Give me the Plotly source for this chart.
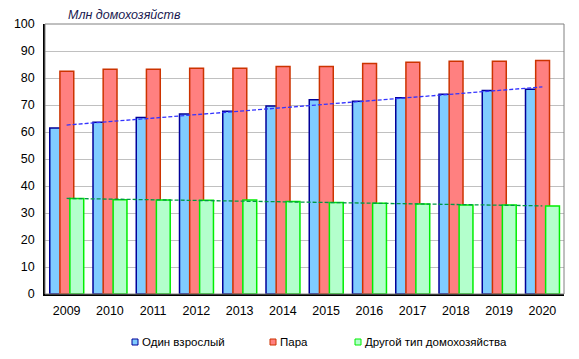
import numpy as np
import plotly.graph_objects as go

years = ["2009", "2010", "2011", "2012", "2013", "2014", "2015", "2016", "2017", "2018", "2019", "2020"]
single_adult = [61.5, 63.6, 65.4, 66.7, 67.7, 69.6, 71.9, 71.4, 72.7, 74.0, 75.4, 75.8]
couple = [82.5, 83.2, 83.2, 83.6, 83.6, 84.3, 84.3, 85.4, 85.8, 86.2, 86.2, 86.5]
other_type = [35.4, 34.9, 34.8, 34.7, 34.8, 34.3, 33.9, 33.6, 33.3, 33.0, 33.0, 32.6]

names = ["Один взрослый", "Пара", "Другой тип домохозяйства"]
y_ticks = list(range(0, 101, 10))

# layout geometry (pixels)
W_PX, H_PX = 579, 359
ML, MR, MT, MB = 45, 15, 24, 65
PW = W_PX - ML - MR
PH = H_PX - MT - MB


def px_x(p):
    return (p - ML) / PW


def px_y(p):
    return (H_PX - MB - p) / PH


x = np.arange(len(years))
W = 0.32
font = "Liberation Sans, Arial, sans-serif"

fig = go.Figure()
specs = [
    (single_adult, names[0], "#80CCFF", "#000099", -0.39),
    (couple, names[1], "#FF8080", "#CC3300", -0.155),
    (other_type, names[2], "#B3FFCC", "#00EE00", 0.075),
]
for vals, nm, fill, line, off in specs:
    fig.add_trace(go.Bar(
        x=x, y=vals, name=nm, width=W, offset=off, showlegend=False,
        marker=dict(color=fill, line=dict(color=line, width=1.5)),
    ))

# linear trendlines (Excel-style) for single adult and other type
for vals, col in [(single_adult, "#3333FF"), (other_type, "#009944")]:
    k, b = np.polyfit(x, vals, 1)
    fig.add_trace(go.Scatter(
        x=[x[0], x[-1]], y=[k * x[0] + b, k * x[-1] + b], mode="lines",
        line=dict(color=col, width=1.3, dash="4px,2px"), showlegend=False,
        hoverinfo="skip",
    ))

shapes = [dict(type="rect", xref="paper", yref="paper", x0=0, y0=0, x1=1, y1=1,
               line=dict(color="#808080", width=1), layer="above")]
annotations = [dict(text="<i>Млн домохозяйств</i>", xref="paper", yref="paper",
                    x=px_x(66), y=px_y(15), xanchor="left", yanchor="middle",
                    showarrow=False, font=dict(size=12.5, color="#1A1A50", family=font))]

# manual legend (small squares right before the text)
legend_items = [(names[0], "#80CCFF", "#000099", 132),
                (names[1], "#FF8080", "#CC3300", 270),
                (names[2], "#B3FFCC", "#00EE00", 355)]
for nm, fill, line, px0 in legend_items:
    shapes.append(dict(type="rect", xref="paper", yref="paper",
                       x0=px_x(px0), x1=px_x(px0 + 6), y0=px_y(345), y1=px_y(339),
                       fillcolor=fill, line=dict(color=line, width=1)))
    annotations.append(dict(text=nm, xref="paper", yref="paper", x=px_x(px0 + 7.5),
                            y=px_y(342), xanchor="left", yanchor="middle", showarrow=False,
                            font=dict(size=11.5, color="black", family=font)))

fig.update_layout(
    barmode="overlay",
    width=W_PX, height=H_PX,
    margin=dict(l=ML, r=MR, t=MT, b=MB, autoexpand=False),
    paper_bgcolor="white", plot_bgcolor="white",
    font=dict(family=font, size=12, color="black"),
    showlegend=False,
    shapes=shapes,
    annotations=annotations,
)
fig.update_xaxes(range=[-0.5, len(years) - 0.5], tickvals=x, ticktext=years,
                 showgrid=False, showline=True, linecolor="black", linewidth=1.5,
                 ticks="", zeroline=False, tickfont=dict(size=12.5), automargin=False,
                 ticklabelstandoff=4)
fig.update_yaxes(range=[0, 100], tickvals=y_ticks, showgrid=True, gridcolor="#C0C0C0",
                 gridwidth=1, showline=True, linecolor="black", linewidth=1.5,
                 ticks="", zeroline=False, tickfont=dict(size=12.5), automargin=False,
                 ticklabelstandoff=6)

fig.write_html("out.html", config={"displayModeBar": False},
               post_script="document.body.style.margin='0';")
